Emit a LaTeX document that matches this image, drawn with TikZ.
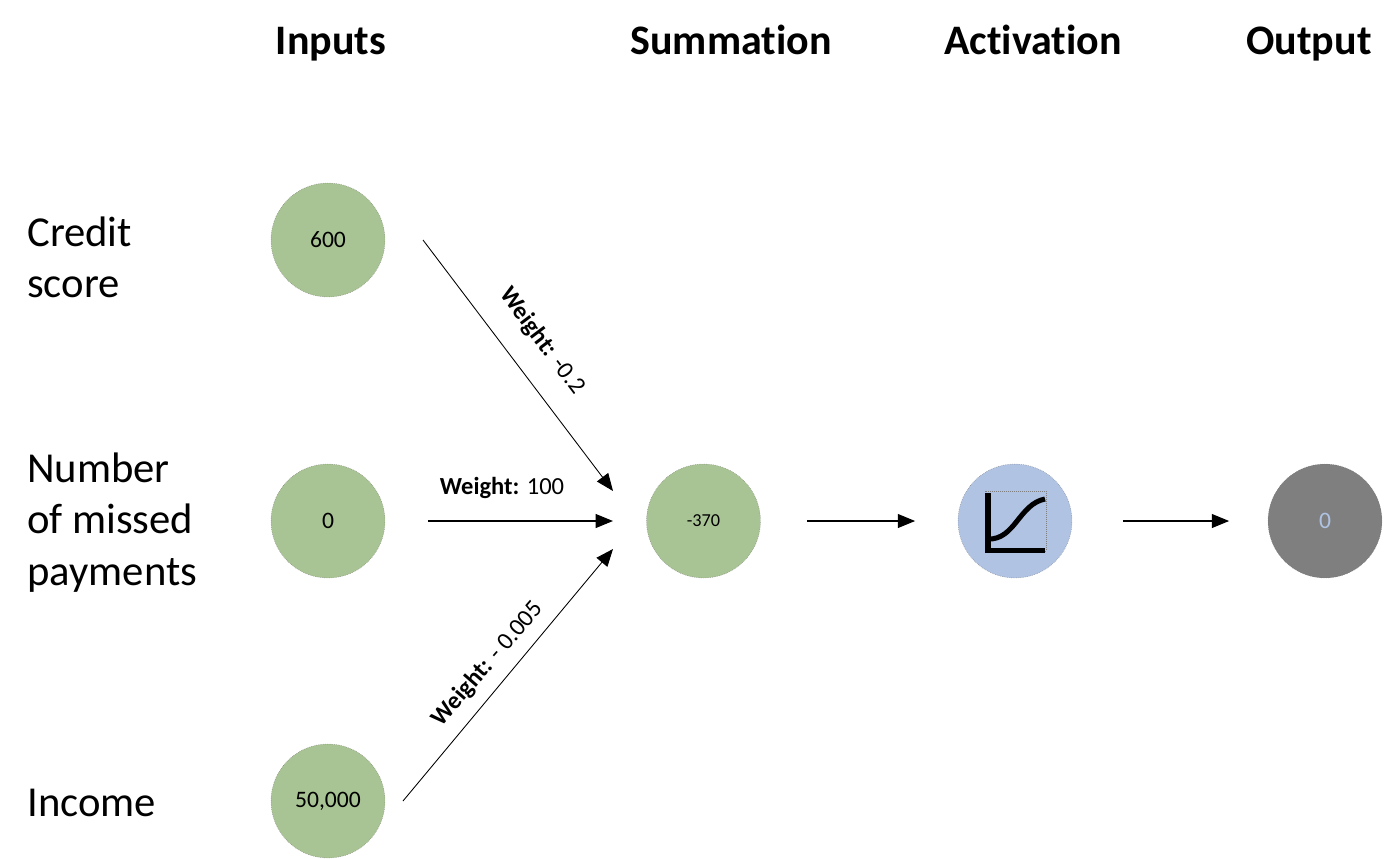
\documentclass[tikz,border=0pt]{standalone}
\usepackage{fontspec}
\setmainfont[Ligatures=NoCommon]{Carlito}
\usetikzlibrary{arrows.meta}
\definecolor{nodegreen}{HTML}{A9C494}
\definecolor{nodeblue}{HTML}{B0C3E3}
\definecolor{nodegray}{HTML}{7F7F7F}
\tikzset{
  x=0.75pt,y=-0.75pt,
  neuron/.style={circle,minimum size=85.5pt,inner sep=0pt,draw=black!55,line width=0.35pt,densely dotted,font=\fontsize{17.7}{21}\selectfont},
  greenn/.style={neuron,fill=nodegreen},
  head/.style={font=\fontsize{31.5}{36}\selectfont\bfseries,inner sep=0pt,anchor=base},
  side/.style={font=\fontsize{32}{38.4}\selectfont,inner sep=0pt,align=left,anchor=west},
  wt/.style={font=\fontsize{18.4}{22}\selectfont,inner sep=0pt},
  conn/.style={-{Triangle[length=13pt,width=10.5pt]},line width=0.8pt,black},
  connthin/.style={conn,line width=0.65pt}
}
\begin{document}
\begin{tikzpicture}
\useasboundingbox (0,0) rectangle (1400,858);
\node[head] (hin) at (331,54) {Inputs};
\node[head] (hsum) at (731,54) {Summation};
\node[head] (hact) at (1033,54) {Activation};
\node[head] (hout) at (1309,54) {Output};
\node[side] (lcredit) at (27,257) {Credit\\score};
\node[side] (lmiss) at (27,522.5) {Number\\of missed\\payments};
\node[side] (linc) at (27,802.5) {Income};
\node[greenn] (a) at (328,240) {600};
\node[greenn] (b) at (328,521) {0};
\node[greenn] (c) at (328,801) {50,000};
\node[greenn,font=\fontsize{13.7}{16}\selectfont] (s) at (703.5,521) {-370};
\node[neuron,fill=nodeblue] (f) at (1015,521) {};
\node[neuron,fill=nodegray,text=nodeblue] (o) at (1325,521) {0};
\coordinate (a1) at (423,240);
\coordinate (a2) at (613,491);
\coordinate (c1) at (403,801);
\coordinate (c2) at (613,549);
\draw[connthin] (a1) -- (a2);
\draw[conn] (b) -- (s) [shorten <=32pt,shorten >=25pt];
\draw[connthin] (c1) -- (c2);
\draw[conn] (s) -- (f) [shorten <=35pt,shorten >=32pt];
\draw[conn] (f) -- (o) [shorten <=38pt,shorten >=29pt];
\node[wt,rotate=-53] (w1) at (542,341) {\textbf{Weight:} -0.2};
\node[wt] (w2) at (502,488) {\textbf{Weight:} 100};
\node[wt,rotate=49] (w3) at (488,664) {\textbf{Weight:} - 0.005};
% activation icon
\draw[black!50,line width=0.5pt,densely dotted] (985,491) rectangle (1046,551);
\draw[black,line width=3.8pt,line cap=butt] (988,493) -- (988,550.5) -- (1045,550.5);
\draw[black,line width=3.8pt] (988,539) .. controls (1015,540) and (1019,504) .. (1045,499);
\end{tikzpicture}
\end{document}
